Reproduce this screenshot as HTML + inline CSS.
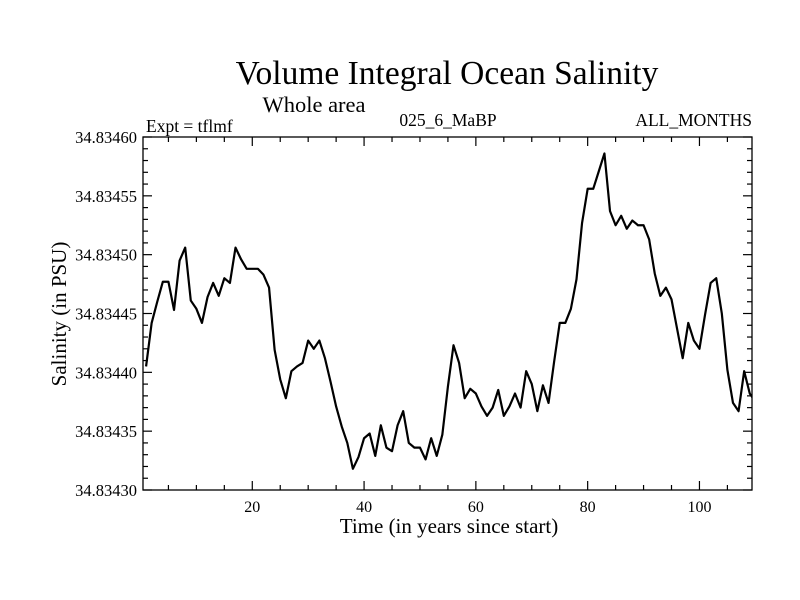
<!DOCTYPE html>
<html><head><meta charset="utf-8"><style>
html,body{margin:0;padding:0;background:#fff}
svg{display:block;font-family:"Liberation Serif",serif}
</style></head><body>
<svg id="chart" width="800" height="600" viewBox="0 0 800 600">
<text x="447" y="84" font-size="33.5" text-anchor="middle">Volume Integral Ocean Salinity</text>
<text x="314" y="112" font-size="22.5" text-anchor="middle">Whole area</text>
<text x="146" y="132" font-size="17.5">Expt = tflmf</text>
<text x="448" y="126" font-size="17.5" text-anchor="middle">025_6_MaBP</text>
<text x="752" y="126" font-size="17.5" text-anchor="end">ALL_MONTHS</text>
<text x="449" y="533" font-size="21" text-anchor="middle">Time (in years since start)</text>
<text transform="translate(66,314) rotate(-90)" font-size="21" text-anchor="middle">Salinity (in PSU)</text>
<g id="axes"></g>
<defs><clipPath id="clip"><rect x="143" y="137" width="609" height="353"/></clipPath></defs>
<path id="line" fill="none" stroke="#000" stroke-width="2.2" stroke-linejoin="round" clip-path="url(#clip)"/>
<rect x="143" y="137" width="609" height="353" fill="none" stroke="#000" stroke-width="1.3"/>
</svg>
<script>
const salinity = [34.834405,34.834442,34.834460,34.834477,34.834477,34.834453,34.834495,34.834506,34.834461,34.834454,
34.834442,34.834464,34.834476,34.834465,34.834480,34.834476,34.834506,34.834496,34.834488,34.834488,
34.834488,34.834483,34.834472,34.834419,34.834394,34.834378,34.834401,34.834405,34.834408,34.834427,
34.834420,34.834427,34.834412,34.834392,34.834371,34.834354,34.834340,34.834318,34.834328,34.834344,
34.834348,34.834329,34.834355,34.834336,34.834333,34.834355,34.834367,34.834340,34.834336,34.834336,
34.834326,34.834344,34.834329,34.834347,34.834388,34.834423,34.834408,34.834378,34.834386,34.834382,
34.834371,34.834363,34.834370,34.834385,34.834363,34.834371,34.834382,34.834370,34.834401,34.834390,
34.834367,34.834389,34.834374,34.834409,34.834442,34.834442,34.834454,34.834479,34.834527,34.834556,
34.834556,34.834571,34.834586,34.834537,34.834525,34.834533,34.834522,34.834529,34.834525,34.834525,
34.834513,34.834484,34.834465,34.834472,34.834462,34.834437,34.834412,34.834442,34.834427,34.834420,
34.834449,34.834476,34.834480,34.834450,34.834402,34.834374,34.834367,34.834401,34.834382,34.834375];
const xTicks = [20,40,60,80,100];
const yTicks = [34.83430,34.83435,34.83440,34.83445,34.83450,34.83455,34.83460];
const yTickLabels = ["34.83430","34.83435","34.83440","34.83445","34.83450","34.83455","34.83460"];
const xMin = 0.45, xMax = 109.4, yMin = 34.8343, yMax = 34.8346;
const L=143,R=752,T=137,B=490;
const xs = v => L + (v - xMin) / (xMax - xMin) * (R - L);
const ys = v => B - (v - yMin) / (yMax - yMin) * (B - T);
const NS="http://www.w3.org/2000/svg";
const axes=document.getElementById('axes');
function ln(x1,y1,x2,y2,name){const e=document.createElementNS(NS,'line');
e.setAttribute('x1',x1);e.setAttribute('y1',y1);e.setAttribute('x2',x2);e.setAttribute('y2',y2);
e.setAttribute('stroke','#000');e.setAttribute('stroke-width','1.2');


axes.appendChild(e);}
for(let v=5;v<xMax;v+=5){const x=xs(v);const maj=v%20===0;const l=maj?9:5;
ln(x,B,x,B-l,'x-tick');ln(x,T,x,T+l,'x-tick-top');}
xTicks.forEach(v=>{const t=document.createElementNS(NS,'text');
t.setAttribute('x',xs(v));t.setAttribute('y',B+22);t.setAttribute('font-size','16');t.setAttribute('text-anchor','middle');
t.textContent=v;


axes.appendChild(t);});
for(let i=0;i<=30;i++){const v=yMin+i*0.00001;const y=ys(v);const maj=i%5===0;const l=maj?9:5;
ln(L,y,L+l,y,'y-tick');ln(R,y,R-l,y,'y-tick-right');}
yTicks.forEach((v,i)=>{const t=document.createElementNS(NS,'text');
t.setAttribute('x',L-6);t.setAttribute('y',ys(v)+6);t.setAttribute('font-size','16.5');t.setAttribute('text-anchor','end');
t.textContent=yTickLabels[i];


axes.appendChild(t);});
document.getElementById('line').setAttribute('d',salinity.map((v,i)=>(i?'L':'M')+xs(i+1).toFixed(2)+','+ys(v).toFixed(2)).join(''));
</script>
</body></html>
